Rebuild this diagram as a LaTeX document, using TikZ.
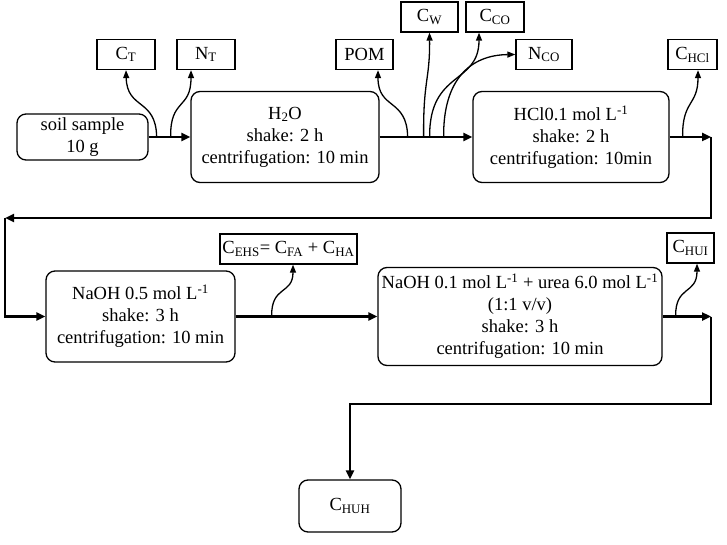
\documentclass[tikz,border=0pt]{standalone}
\usepackage{fontspec}
\setmainfont{Liberation Serif}
\usetikzlibrary{arrows.meta}
\begin{document}
\begin{tikzpicture}[x=1pt,y=-1pt,
  every node/.style={font=\fontsize{18.5}{22}\selectfont},
  proc/.style={draw, rounded corners=9pt, line width=1.3pt, align=center, inner sep=0pt},
  sub/.style={draw, line width=1.3pt, inner sep=0pt, minimum height=30pt},
  mainarrow/.style={line width=2.6pt, -{Triangle[length=9pt,width=8pt]}},
  mainline/.style={line width=2.6pt},
  side/.style={line width=1.3pt, -{Triangle[length=8pt,width=6pt]}}]
\useasboundingbox (0,0) rectangle (727,545);

% process boxes
\node[proc, minimum width=131pt, minimum height=46pt] (soil) at (82.5,137) {soil sample\\10 g};
\node[proc, minimum width=188pt, minimum height=91pt] (h2o) at (285,137) {H\textsubscript{2}O\\shake: 2 h\\centrifugation: 10 min};
\node[proc, minimum width=196pt, minimum height=91pt] (hcl) at (571,137) {HCl0.1 mol L\textsuperscript{-1}\\shake: 2 h\\centrifugation: 10min};
\node[proc, minimum width=189pt, minimum height=91pt] (naoha) at (140.5,316.5) {NaOH 0.5 mol L\textsuperscript{-1}\\shake: 3 h\\centrifugation: 10 min};
\node[proc, minimum width=284pt, minimum height=98pt] (naohb) at (520,316.5) {NaOH 0.1 mol L\textsuperscript{-1} + urea 6.0 mol L\textsuperscript{-1}\\(1:1 v/v)\\shake: 3 h\\centrifugation: 10 min};
\node[proc, minimum width=102pt, minimum height=52pt] (huh) at (350,506) {C\textsubscript{HUH}};

% result boxes
\node[sub, minimum width=58pt] (ct) at (126,54.5) {C\textsubscript{T}};
\node[sub, minimum width=58pt] (nt) at (206,54.5) {N\textsubscript{T}};
\node[sub, minimum width=57pt] (pom) at (364.5,54.5) {POM};
\node[sub, minimum width=57pt] (cw) at (429.5,17) {C\textsubscript{W}};
\node[sub, minimum width=58pt] (cco) at (495,17) {C\textsubscript{CO}};
\node[sub, minimum width=56pt] (nco) at (544,54.5) {N\textsubscript{CO}};
\node[sub, minimum width=49pt] (chcl) at (692.5,54.5) {C\textsubscript{HCl}};
\node[sub, minimum width=137pt] (cehs) at (288.5,249) {C\textsubscript{EHS}= C\textsubscript{FA} + C\textsubscript{HA}};
\node[sub, minimum width=47pt] (chui) at (690.5,248) {C\textsubscript{HUI}};

% corner coordinates
\coordinate (c1) at (711,137);
\coordinate (c2) at (711,218);
\coordinate (c3) at (5,218);
\coordinate (c4) at (5,316.5);
\coordinate (c5) at (711,316.5);
\coordinate (c6) at (711,404);
\coordinate (c7) at (350,404);

% main flow
\draw[mainarrow] (soil.east) -- (h2o.west);
\draw[mainarrow] (h2o.east) -- (hcl.west);
\draw[mainarrow] (hcl.east) -- (c1);
\draw[mainarrow] (c1) -- (c2) -- (c3);
\draw[mainarrow] (c3) -- (c4) -- (naoha.west);
\draw[mainarrow] (naoha.east) -- (naohb.west);
\draw[mainarrow] (naohb.east) -- (c5);
\draw[mainarrow] (c5) -- (c6) -- (c7) -- (huh.north);

% side branches
\coordinate (sct) at ([xshift=8pt]soil.east);
\coordinate (snt) at ([xshift=22pt]soil.east);
\coordinate (spom) at ([xshift=28pt]h2o.east);
\coordinate (scw) at ([xshift=44pt]h2o.east);
\coordinate (scco) at ([xshift=50pt]h2o.east);
\coordinate (snco) at ([xshift=64pt]h2o.east);
\coordinate (schcl) at ([xshift=13pt]hcl.east);
\coordinate (sehs) at ([xshift=36pt]naoha.east);
\coordinate (shui) at ([xshift=13pt]naohb.east);

\draw[side] (sct) .. controls (156,98) and (127,110) .. (ct.south);
\draw[side] (snt) .. controls (170,98) and (191,110) .. ([xshift=-15pt]nt.south);
\draw[side] (spom) .. controls (407,98) and (378,110) .. ([xshift=13.5pt]pom.south);
\draw[side] (scw) .. controls (423,80) and (430,80) .. (cw.south);
\draw[side] (scco) .. controls (429,70) and (479,85) .. ([xshift=-16pt]cco.south);
\draw[side] (snco) .. controls (443,80) and (470,55) .. (nco.west);
\draw[side] (schcl) .. controls (682,100) and (698,106) .. ([xshift=5.5pt]chcl.south);
\draw[side] (sehs) .. controls (271,285) and (293,295) .. ([xshift=4.5pt]cehs.south);
\draw[side] (shui) .. controls (675,285) and (697,295) .. ([xshift=6.5pt]chui.south);
\end{tikzpicture}
\end{document}
